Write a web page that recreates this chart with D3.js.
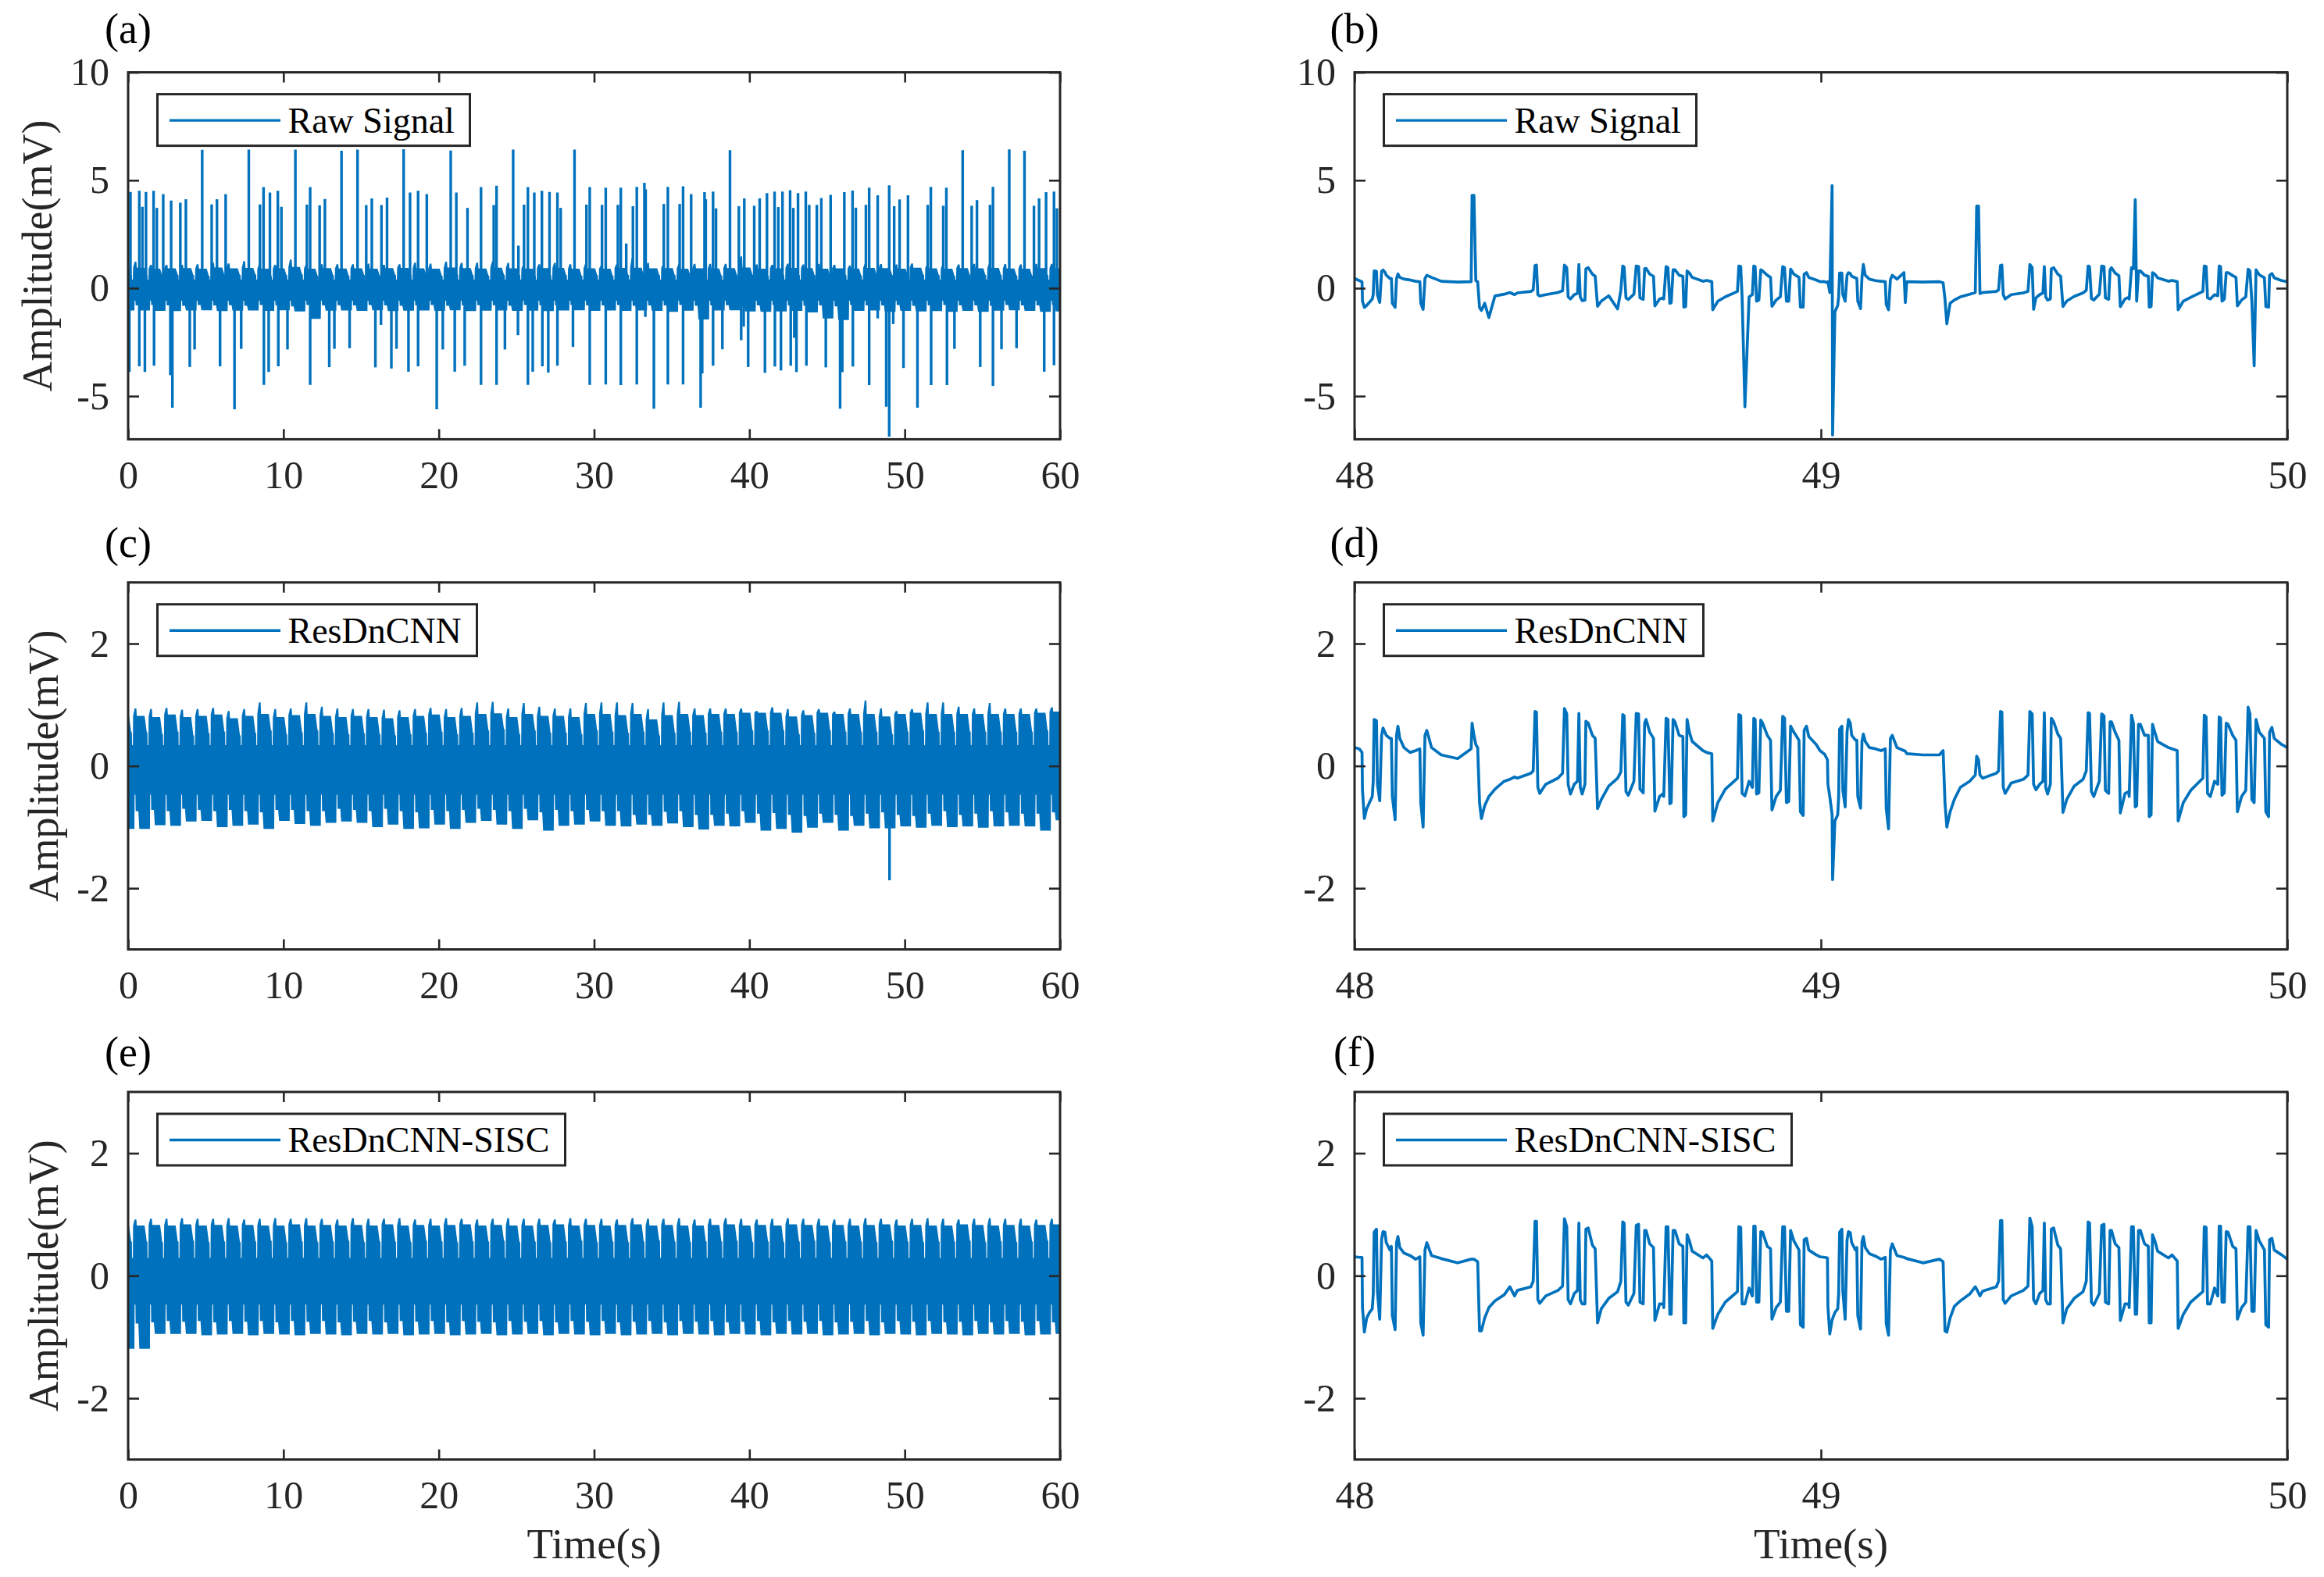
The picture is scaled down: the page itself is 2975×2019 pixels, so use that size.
<!DOCTYPE html>
<html>
<head>
<meta charset="utf-8">
<script src="https://cdn.jsdelivr.net/npm/d3@7"></script>
<style>
  html, body { margin: 0; background: #fff; }
  text { font-family: "Liberation Serif", serif; }
</style>
</head>
<body>
<script>
// ---- overview panels: one value per beat (second) ----
const aUpperPeak = [1.23,1.08,1.08,1.08,1.11,1.17,1.15,1.26,1.11,1.08,1.33,1.08,1.11,1.11,1.11,1.14,1.08,1.11,1.18,1.14,1.23,1.17,1.18,1.23,1.17,1.08,1.11,1.17,1.11,1.14,
  1.05,1.11,1.41,1.17,1.11,1.11,1.13,1.13,1.13,1.47,1.10,1.08,1.14,1.10,1.13,1.08,1.05,1.14,1.12,1.10,1.15,1.13,1.08,1.10,1.13,1.13,1.12,1.10,1.13,1.13];
const aUpperMid = [.95,.90,.92,.93,.90,.96,.92,.94,.90,.92,.98,.90,.93,.91,.92,.90,.93,.94,.92,.90,.96,.93,.91,.95,.92,.90,.93,.94,.90,.92,
  .90,.94,.95,.92,.93,.90,.92,.91,.93,.96,.90,.92,.94,.93,.90,.92,.91,.94,.93,.90,.95,.92,.90,.93,.92,.94,.91,.90,.93,.92];
const aUpperEnd = [.60,.58,.62,.60,.57,.62,.60,.63,.58,.60,.64,.58,.60,.59,.60,.58,.61,.62,.60,.58,.63,.60,.59,.62,.60,.58,.60,.61,.58,.60,
  .58,.61,.62,.60,.60,.58,.60,.59,.60,.62,.58,.60,.61,.60,.58,.60,.59,.61,.60,.58,.62,.60,.58,.60,.60,.61,.59,.58,.60,.60];
const aLowerStart = [-.80,-.78,-.80,-.82,-.78,-.80,-.79,-.82,-.78,-.80,-.84,-.78,-.80,-.79,-.80,-.78,-.80,-.82,-.80,-.78,-.82,-.80,-.79,-.80,-.82,-.78,-.80,-.80,-.78,-.80,
  -.80,-.78,-.82,-.80,-.80,-.78,-.82,-.80,-.79,-.84,-.80,-.78,-.80,-.82,-.80,-.84,-.78,-.80,-.80,-.78,-.82,-.80,-.78,-.80,-.80,-.82,-.78,-.80,-.80,-.78];
const aLowerTrough = [-1.03,-1.05,-1.06,-1.03,-1.02,-1.06,-1.04,-1.03,-1.05,-1.02,-1.08,-1.42,-1.04,-1.03,-1.05,-1.02,-1.06,-1.04,-1.03,-1.05,-1.02,-1.06,-1.04,-1.03,-1.05,-1.04,-1.06,-1.03,-1.02,-1.05,
  -1.03,-1.05,-1.03,-1.05,-1.10,-1.04,-1.45,-1.03,-1.02,-1.08,-1.10,-1.08,-1.05,-1.12,-1.40,-1.48,-1.05,-1.03,-1.10,-1.05,-1.08,-1.06,-1.10,-1.05,-1.10,-1.04,-1.02,-1.05,-1.10,-1.08];
const aUpperNotch = .40, aLowerNotch = -.58;

// spikes of the raw signal (s, mV)
const aUpSpikeT = [.15,.72,.92,1.15,1.64,1.85,2.26,2.77,3.36,3.72,4.77,5.38,5.72,6.28,7.77,8.49,8.72,9.13,9.64,9.87,10.77,11.51,11.72,12.33,12.67,13.74,14.77,15.33,15.69,16.31,16.67,17.74,18.15,18.67,19.23,20.77,21.13,21.85,22.72,23.54,23.72,24.79,25.13,25.49,25.74,26.15,26.64,27.13,27.64,27.85,28.74,29.51,29.72,
  30.51,30.75,31.53,31.72,32.07,32.50,32.75,33.24,33.32,34.49,34.75,35.51,35.73,36.25,37.11,37.19,37.66,37.85,38.75,39.32,39.67,40.31,40.66,41.13,41.62,41.86,42.13,42.62,42.83,43.13,43.63,43.85,44.34,44.63,45.23,46.11,46.64,46.85,47.50,47.71,48.26,49.00,49.32,49.67,50.21,51.48,51.68,52.48,52.68,53.73,54.31,54.65,55.49,55.68,56.73,57.71,58.32,58.65,59.10,59.61,59.80];
const aUpSpikeV = [4.46,4.51,3.77,4.46,4.51,3.72,4.36,4.06,3.96,4.12,6.41,3.88,4.12,4.36,6.42,3.88,4.68,4.43,4.51,3.77,6.42,3.87,4.68,3.84,4.13,6.37,6.42,3.85,4.16,3.85,4.20,6.44,4.43,4.51,4.36,6.38,4.43,3.72,4.68,3.85,4.75,6.42,1.97,3.87,4.68,4.43,4.51,4.46,4.43,3.72,6.42,3.87,4.68,
  3.86,4.66,3.86,4.66,2.07,3.80,4.69,4.88,4.58,3.90,4.69,3.90,4.72,4.36,4.45,4.12,4.48,3.70,6.39,3.80,4.16,3.82,4.16,4.40,4.48,3.76,4.48,4.54,3.72,4.40,4.48,3.86,3.86,4.18,4.32,4.45,4.52,3.73,3.86,4.66,4.30,4.77,3.80,4.11,4.30,3.86,4.69,3.82,4.66,6.39,3.82,4.08,3.86,4.69,6.43,6.37,3.82,4.16,4.45,4.48,3.70];
const aDownSpikeT = [.08,.72,1.08,1.67,2.72,2.85,3.97,4.28,5.92,6.85,7.28,8.74,9.05,9.67,10.26,11.72,12.95,13.28,14.26,15.92,16.28,16.95,17.28,18.05,18.67,19.87,20.26,21.03,21.67,22.72,23.72,24.26,25.10,25.74,26.05,26.67,27.05,27.64,28.64,29.72,
  30.75,31.72,32.75,33.30,33.85,34.75,35.73,36.86,36.96,37.66,38.26,39.47,39.63,39.92,41.00,41.64,42.03,42.66,42.89,43.03,43.67,44.92,45.84,45.98,46.66,47.71,48.26,48.81,49.00,49.26,49.92,50.82,51.70,52.72,53.20,54.86,55.68,56.23,57.20,58.98,59.61];
const aDownSpikeV = [-3.88,-3.62,-3.88,-3.59,-4.03,-5.54,-3.65,-2.84,-3.62,-5.61,-2.81,-4.48,-3.88,-3.62,-2.84,-4.48,-3.66,-2.81,-2.78,-3.67,-1.70,-3.72,-2.81,-3.87,-3.62,-5.61,-2.84,-3.87,-3.59,-4.48,-4.48,-2.84,-2.18,-4.48,-3.87,-3.62,-3.91,-3.59,-2.72,-4.48,
  -4.46,-4.49,-4.46,-1.33,-5.58,-4.46,-4.46,-5.54,-3.95,-3.59,-2.83,-2.41,-1.78,-3.65,-3.92,-3.63,-3.81,-3.59,-2.30,-3.89,-3.59,-3.67,-5.58,-3.89,-3.63,-4.49,-1.40,-5.49,-6.88,-1.66,-3.70,-5.54,-4.49,-4.49,-2.81,-3.65,-4.53,-2.83,-2.78,-3.87,-3.57];

const cUpperPeak = [.94,.93,.95,.92,.93,.95,.90,.93,1.04,.93,.94,1.04,.97,.94,.93,.93,.92,.91,.93,.95,.93,.95,1.04,1.05,.94,1.03,.97,.94,.94,1.03,
  1.04,1.04,1.03,.93,1.04,1.05,.94,.94,.94,.94,.90,.96,.93,.91,.93,.89,.94,1.07,.94,.90,.93,1.04,1.04,.97,.94,1.03,.94,.94,.94,.96];
const cUpperMid = [.82,.80,.84,.80,.82,.84,.78,.82,.85,.80,.83,.85,.82,.80,.82,.80,.78,.80,.82,.84,.80,.82,.85,.86,.80,.85,.82,.82,.80,.85,
  .85,.83,.85,.76,.83,.85,.83,.85,.85,.87,.87,.87,.81,.83,.87,.85,.85,.85,.81,.85,.87,.85,.85,.85,.85,.85,.85,.85,.87,.89];
const cUpperEnd = [.55,.52,.56,.50,.53,.56,.50,.54,.58,.52,.55,.58,.54,.52,.53,.52,.50,.52,.54,.56,.52,.54,.58,.60,.52,.58,.54,.54,.52,.58,
  .56,.54,.56,.50,.54,.56,.54,.56,.56,.58,.58,.58,.52,.54,.58,.56,.56,.56,.52,.56,.58,.56,.56,.56,.56,.56,.56,.56,.58,.60];
const cLowerStart = [-.74,-.72,-.74,-.70,-.72,-.74,-.72,-.74,-.76,-.72,-.72,-.74,-.74,-.70,-.72,-.74,-.70,-.74,-.76,-.72,-.74,-.72,-.70,-.72,-.74,-.70,-.76,-.72,-.74,-.72,
  -.74,-.74,-.80,-.80,-.75,-.74,-.80,-.80,-.78,-.74,-.78,-.77,-.80,-.82,-.78,-.80,-.82,-.78,-.76,-.80,-.82,-.78,-.74,-.80,-.78,-.74,-.76,-.78,-.78,-.76];
const cLowerTrough = [-1.03,-.97,-.98,-.91,-.90,-1.00,-.98,-.96,-1.03,-.90,-.95,-.98,-.93,-.91,-.93,-1.00,-.96,-1.03,-1.02,-.96,-1.03,-.93,-.90,-.96,-1.03,-.89,-1.06,-.98,-.96,-.91,
  -.98,-.99,-.96,-.98,-.94,-1.00,-1.04,-.98,-.99,-.93,-1.06,-1.03,-1.09,-1.01,-.93,-1.06,-.98,-1.02,-1.02,-.99,-1.01,-.98,-1.00,-.99,-1.01,-.99,-.98,-.99,-1.06,-.89];
const cUpperNotch = .34, cLowerNotch = -.47;
const cSpikeT = [49.02], cSpikeV = [-1.87];

const eUpperPeak = [.92,.93,.93,.94,.93,.93,.94,.92,.93,.94,.93,.94,.93,.92,.94,.93,.93,.94,.92,.93,.94,.93,.92,.93,.94,.93,.93,.92,.94,.93,
  .93,.92,.94,.93,.93,.94,.92,.93,.94,.93,.92,.93,.94,.93,.93,.92,.93,.94,.93,.92,.93,.94,.93,.92,.93,.94,.93,.93,.92,.93];
const eUpperMid = [.82,.83,.82,.84,.82,.83,.82,.83,.82,.82,.84,.82,.83,.82,.83,.82,.84,.82,.83,.82,.83,.84,.82,.83,.82,.82,.83,.84,.82,.83,
  .82,.83,.84,.82,.83,.82,.82,.83,.84,.82,.83,.82,.84,.83,.82,.83,.82,.83,.84,.82,.83,.82,.82,.84,.83,.82,.83,.82,.83,.84];
const eUpperEnd = [.56,.55,.56,.57,.55,.56,.55,.56,.57,.55,.56,.55,.56,.57,.55,.56,.56,.55,.57,.56,.55,.56,.56,.57,.55,.56,.55,.56,.57,.55,
  .56,.55,.56,.57,.56,.55,.56,.56,.57,.55,.56,.55,.56,.57,.55,.56,.56,.55,.57,.56,.55,.56,.56,.57,.55,.56,.55,.56,.57,.55];
const eLowerStart = [-.78,-.76,-.74,-.75,-.74,-.76,-.74,-.75,-.74,-.76,-.74,-.75,-.74,-.76,-.75,-.74,-.76,-.74,-.75,-.74,-.76,-.74,-.75,-.76,-.74,-.75,-.74,-.76,-.74,-.75,
  -.74,-.76,-.75,-.74,-.76,-.74,-.75,-.74,-.76,-.75,-.74,-.76,-.74,-.75,-.74,-.76,-.75,-.74,-.76,-.74,-.75,-.74,-.76,-.75,-.74,-.76,-.74,-.75,-.74,-.76];
const eLowerTrough = [-1.19,-.95,-.95,-.95,-.97,-.96,-.95,-.97,-.95,-.96,-.97,-.95,-.96,-.97,-.95,-.96,-.95,-.97,-.96,-.95,-.97,-.96,-.95,-.97,-.96,-.95,-.97,-.95,-.96,-.97,
  -.95,-.97,-.96,-.95,-.97,-.95,-.96,-.97,-.95,-.96,-.97,-.95,-.96,-.95,-.97,-.96,-.95,-.97,-.95,-.96,-.97,-.95,-.96,-.97,-.95,-.96,-.95,-.97,-.96,-.95];
const eUpperNotch = .29, eLowerNotch = -.47;

// ---- detail panels: seconds after t = 48, shared by the three traces ----
const detailT = [
  0,.010,.016,.017,.021,.026,.032,.038,.040,.042,
  .047,.049,.054,.058,.061,.065,.068,.076,.079,.081,
  .087,.090,.093,.097,.106,.119,.131,.140,.142,.147,
  .151,.155,.165,.186,.221,.250,.252,.256,.260,.264,
  .268,.272,.279,.288,.301,.321,.333,.343,.349,.378,
  .383,.387,.390,.393,.397,.410,.436,.446,.450,.455,
  .458,.463,.471,.478,.481,.484,.488,.494,.496,.501,
  .510,.516,.521,.529,.545,.564,.571,.575,.578,.582,
  .587,.599,.604,.609,.612,.619,.622,.625,.633,.641,
  .644,.654,.662,.663,.668,.672,.676,.679,.683,.687,
  .696,.704,.706,.710,.713,.718,.724,.747,.755,.766,
  .768,.779,.795,.821,.824,.828,.831,.837,.846,.853,
  .856,.859,.862,.867,.871,.875,.885,.892,.895,.904,
  .913,.918,.922,.926,.931,.935,.942,.953,.956,.962,
  .964,.969,.974,.990,
  .998,1.008,1.014,1.015,1.019,1.024,1.025,1.030,1.036,1.038,
  1.040,1.045,1.047,1.052,1.056,1.059,1.063,1.066,1.074,1.077,
  1.079,1.085,1.088,1.091,1.095,1.104,1.117,1.129,1.138,1.140,
  1.145,1.149,1.153,1.163,1.178,1.181,1.184,1.219,1.254,1.262,
  1.266,1.270,1.277,1.286,1.299,1.319,1.331,1.334,1.338,1.341,
  1.347,1.376,1.381,1.385,1.388,1.391,1.395,1.408,1.434,1.444,
  1.448,1.453,1.456,1.461,1.469,1.476,1.479,1.482,1.486,1.492,
  1.494,1.499,1.508,1.514,1.519,1.527,1.543,1.562,1.569,1.573,
  1.576,1.580,1.585,1.597,1.602,1.607,1.610,1.617,1.620,1.623,
  1.631,1.639,1.642,1.652,1.660,1.661,1.666,1.670,1.674,1.677,
  1.681,1.685,1.694,1.702,1.704,1.708,1.711,1.716,1.722,1.745,
  1.753,1.764,1.766,1.777,1.793,1.819,1.822,1.826,1.829,1.835,
  1.844,1.851,1.854,1.857,1.860,1.865,1.869,1.873,1.883,1.890,
  1.893,1.902,1.911,1.916,1.920,1.924,1.929,1.933,1.940,1.951,
  1.954,1.960,1.962,1.967,1.972,1.988,2.000];

const detailRaw = [
  .45,.35,.30,-.60,-.89,-.80,-.65,-.50,-.30,.80,
  .78,-.30,-.66,.78,.84,.75,.60,.45,.45,-.70,
  -.89,.45,.66,.50,.42,.38,.32,.30,-.70,-.98,
  .45,.60,.50,.32,.28,.30,4.30,4.30,.35,.30,
  -.90,-1.03,-.70,-1.36,-.36,-.28,-.20,-.30,-.22,-.15,
  -.08,1.05,1.07,-.30,-.36,-.30,-.20,-.12,1.07,.95,
  -.40,-.50,-.30,-.25,1.10,-.40,-.58,-.55,.90,.95,
  .65,.55,-.84,-.60,-.35,-.96,-.10,1.03,.98,-.45,
  -.52,-.28,1.03,1.00,-.45,-.52,.90,.92,.65,.55,
  -.82,-.50,-.45,-.50,1.00,.95,-.70,-.68,.85,.85,
  .60,.55,-.88,-.85,.80,.70,.50,.32,.36,.30,
  -1.0,-.60,-.40,-.15,1.03,1.00,-.40,-5.50,-.40,-.30,
  1.03,1.00,-.60,-.55,.85,.80,.60,.50,-.84,-.55,
  -.40,1.0,.95,-.60,-.60,.88,.65,.50,-.88,-.88,
  .65,.72,.50,.38,
  .30,.30,.25,.30,-.20,4.75,-6.80,-1.10,-.80,-.40,
  .70,.70,-.30,-.60,.60,.72,.68,.55,.48,.45,
  -.60,-.95,.50,1.10,.60,.42,.35,.32,.30,-.75,
  -1.0,.40,.60,.42,.72,-.67,.30,.28,.30,.25,
  -.50,-1.65,-.70,-.55,-.40,-.28,-.20,3.80,3.80,-.25,
  -.20,-.15,-.08,1.05,1.07,-.30,-.50,-.30,-.22,-.15,
  1.10,.95,-.98,-.45,-.30,-.22,1.0,-.40,-.55,-.50,
  .90,.95,.65,.55,-.85,-.60,-.38,-.22,-.10,1.03,
  1.00,-.48,-.55,-.28,1.03,1.00,-.45,-.52,.85,.95,
  .70,.58,-.85,-.50,-.42,-.50,.95,.90,4.10,-.60,
  .80,.80,.60,.55,-.88,-.85,.72,.65,.48,.32,
  .36,.30,-1.0,-.60,-.42,-.15,1.03,1.00,-.45,-.50,
  -.30,-.35,1.03,1.00,-.60,-.50,.72,.72,.58,.50,
  -.82,-.55,-.40,.88,.80,-.60,-3.60,.85,.62,.48,
  -.85,-.88,.60,.68,.48,.35,.30];

const detailResDn = [
  .30,.28,.22,-.40,-.86,-.70,-.60,-.50,-.25,.76,
  .74,-.30,-.57,.50,.62,.55,.50,.45,.45,-.50,
  -.88,.50,.65,.45,.30,.22,.25,.28,-.60,-1.0,
  .50,.58,.30,.18,.12,.28,.70,.50,.35,.30,
  -.60,-.86,-.65,-.50,-.38,-.25,-.22,-.18,-.20,-.12,
  -.08,.89,.88,-.35,-.45,-.30,-.20,-.12,.94,.85,
  -.30,-.46,-.30,-.25,.86,-.35,-.46,-.30,.73,.70,
  .50,.45,-.70,-.55,-.33,-.20,-.10,.84,.82,-.42,
  -.48,-.25,.86,.85,-.38,-.44,.70,.76,.55,.45,
  -.74,-.50,-.45,-.50,.78,.76,-.62,-.60,.76,.72,
  .50,.48,-.83,-.80,.76,.55,.40,.25,.22,.20,
  -.90,-.60,-.38,-.20,.84,.82,-.45,-.49,-.25,-.35,
  .78,.76,-.46,-.44,.75,.70,.50,.42,-.72,-.50,
  -.40,.81,.78,-.60,-.58,.65,.55,.42,-.75,-.81,
  .58,.65,.48,.35,
  .25,.19,.10,-.30,-.50,-.80,-1.86,-.90,-.80,-.50,
  .60,.65,-.40,-.67,.55,.76,.70,.50,.42,.42,
  -.50,-.69,.40,.52,.40,.30,.28,.25,.28,-.70,
  -1.03,.45,.50,.30,.25,.24,.20,.18,.18,.25,
  -.60,-1.00,-.75,-.55,-.35,-.25,-.15,.16,.10,-.15,
  -.20,-.12,-.08,.89,.88,-.35,-.45,-.28,-.22,-.15,
  .89,.85,-.30,-.39,-.30,-.25,.87,-.35,-.46,-.30,
  .78,.72,.52,.45,-.76,-.55,-.33,-.22,-.08,.87,
  .86,-.42,-.50,-.25,.85,.82,-.40,-.45,.72,.72,
  .55,.42,-.77,-.45,-.42,-.50,.83,.70,-.67,-.65,
  .68,.68,.50,.50,-.83,-.80,.68,.55,.40,.30,
  .28,.25,-.90,-.60,-.40,-.20,.83,.80,-.45,-.50,
  -.25,-.30,.80,.78,-.48,-.44,.70,.68,.50,.42,
  -.75,-.50,-.40,.96,.85,-.55,-.60,.76,.55,.45,
  -.75,-.83,.55,.63,.45,.35,.30];

const detailSisc = [
  .31,.30,.30,-.52,-.92,-.69,-.60,-.54,-.31,.71,
  .76,-.26,-.71,.59,.72,.71,.54,.42,.48,-.65,
  -.88,.54,.64,.46,.37,.33,.27,.31,-.77,-.97,
  .42,.54,.33,.28,.21,.27,.27,.27,.25,.23,
  -.90,-.90,-.69,-.52,-.41,-.31,-.18,-.33,-.24,-.18,
  -.09,.89,.89,-.39,-.45,-.33,-.24,-.17,.93,.80,
  -.39,-.46,-.29,-.24,.86,-.39,-.46,-.46,.76,.78,
  .50,.44,-.77,-.54,-.37,-.26,-.09,.88,.86,-.43,
  -.48,-.29,.82,.84,-.43,-.46,.74,.74,.52,.46,
  -.73,-.46,-.46,-.52,.80,.80,-.63,-.63,.74,.74,
  .52,.48,-.77,-.77,.67,.57,.40,.29,.34,.24,
  -.86,-.63,-.43,-.26,.80,.79,-.46,-.46,-.20,-.33,
  .81,.81,-.43,-.43,.72,.71,.48,.44,-.71,-.52,
  -.43,.80,.80,-.58,-.58,.74,.57,.42,-.80,-.84,
  .59,.61,.42,.34,
  .31,.30,.29,-.50,-.95,-.72,-.70,-.60,-.54,-.30,
  .71,.76,-.26,-.71,.58,.72,.70,.54,.42,.46,
  -.65,-.87,.55,.64,.46,.36,.32,.27,.30,-.78,
  -.97,.42,.52,.33,.30,.29,.28,.21,.27,.23,
  -.90,-.92,-.69,-.50,-.41,-.30,-.18,-.22,-.28,-.33,
  -.25,-.18,-.09,.90,.90,-.39,-.45,-.33,-.24,-.17,
  .94,.80,-.39,-.46,-.29,-.24,.86,-.39,-.46,-.46,
  .76,.78,.50,.44,-.77,-.54,-.37,-.26,-.09,.88,
  .86,-.43,-.48,-.29,.82,.84,-.43,-.46,.74,.74,
  .52,.46,-.73,-.46,-.46,-.52,.80,.80,-.63,-.63,
  .74,.74,.52,.48,-.77,-.77,.67,.57,.40,.29,
  .34,.24,-.86,-.63,-.43,-.26,.80,.79,-.46,-.46,
  -.20,-.33,.81,.81,-.43,-.43,.72,.71,.48,.44,
  -.71,-.52,-.43,.80,.80,-.58,-.58,.74,.57,.42,
  -.80,-.84,.59,.61,.42,.34,.27];

const overviewTicks = [0,10,20,30,40,50,60];
const detailTicks = [48,49,50];
const rawYTicks = [-5,0,5,10];
const cleanYTicks = [-2,0,2];
const legendNames = ["Raw Signal","ResDnCNN","ResDnCNN-SISC"];
const panelTags = ["(a)","(b)","(c)","(d)","(e)","(f)"];

const WIDTH = 2975, HEIGHT = 2019;
const BLUE = "#0072BD", DARK = "#262626";
const colX = [[164,1357],[1734,2928]];
const rowY = [[92.6,562.4],[745.7,1215.5],[1398,1868.6]];
const legendW = [[400,400],[409,409],[522,522]];
const tagGap = [38,33,33];

const svg = d3.select("body").append("svg")
  .attr("width", WIDTH).attr("height", HEIGHT)
  .style("display","block");

// upper edge of the band, beat by beat
function upperEdge(peak, mid, end, notch) {
  const pts = [];
  d3.range(-1,60).forEach(k => {
    const i = Math.max(k,0);
    pts.push([k+.255,notch],[k+.305,notch],[k+.32,mid[i]],[k+.42,peak[i]],[k+.53,peak[i]],
             [k+.56,mid[i]],[k+1.06,mid[i]],[k+1.2,end[i]],[k+1.245,end[i]]);
  });
  return pts;
}
function lowerEdge(start, trough, notch) {
  const pts = [];
  d3.range(-1,60).forEach(k => {
    const i = Math.max(k,0);
    pts.push([k+.42,notch],[k+.47,notch],[k+.485,start[i]],[k+.66,start[i]],[k+.72,trough[i]],[k+1.405,trough[i]]);
  });
  return pts;
}

function drawPanel(col, row, tag, draw) {
  const x = d3.scaleLinear().domain(col === 0 ? [0,60] : [48,50]).range(colX[col]);
  const y = d3.scaleLinear().domain(row === 0 ? [-7,10] : [-3,3]).range([rowY[row][1],rowY[row][0]]);
  const xTicks = col === 0 ? overviewTicks : detailTicks;
  const yTicks = row === 0 ? rawYTicks : cleanYTicks;
  const [left,right] = colX[col], [top,bottom] = rowY[row];
  const g = svg.append("g");
  const clip = "clip-" + col + "-" + row;
  g.append("clipPath").attr("id",clip).append("rect")
    .attr("x",left).attr("y",top).attr("width",right-left).attr("height",bottom-top);

  const plot = g.append("g").attr("clip-path","url(#"+clip+")");
  draw(plot, x, y);

  // box and ticks, MATLAB style: ticks point inwards on all four sides
  g.append("g").attr("transform","translate(0,"+bottom+")")
    .call(d3.axisBottom(x).tickValues(xTicks).tickSizeInner(-13).tickSizeOuter(0).tickPadding(27).tickFormat(d => String(d)));
  g.append("g").attr("transform","translate(0,"+top+")")
    .call(d3.axisTop(x).tickValues(xTicks).tickSizeInner(-13).tickSizeOuter(0).tickFormat(""));
  g.append("g").attr("transform","translate("+left+",0)")
    .call(d3.axisLeft(y).tickValues(yTicks).tickSizeInner(-14).tickSizeOuter(0).tickPadding(24).tickFormat(d => String(d)));
  g.append("g").attr("transform","translate("+right+",0)")
    .call(d3.axisRight(y).tickValues(yTicks).tickSizeInner(-14).tickSizeOuter(0).tickFormat(""));
  g.selectAll(".domain").remove();
  g.selectAll(".tick line").attr("stroke",DARK).attr("stroke-width",2.6);
  g.selectAll(".tick text").attr("fill",DARK).style("font-size","50px").style("font-family",'"Liberation Serif", serif');
  g.append("rect").attr("x",left).attr("y",top).attr("width",right-left).attr("height",bottom-top)
    .attr("fill","none").attr("stroke",DARK).attr("stroke-width",3);

  // legend
  const lx = left+37.5, ly = top+28;
  g.append("rect").attr("x",lx).attr("y",ly).attr("width",legendW[row][col]).attr("height",66)
    .attr("fill","#fff").attr("stroke",DARK).attr("stroke-width",3);
  g.append("line").attr("x1",lx+15.5).attr("x2",lx+157.5).attr("y1",ly+33.5).attr("y2",ly+33.5)
    .attr("stroke",BLUE).attr("stroke-width",3.4);
  g.append("text").attr("x",lx+167).attr("y",ly+49).attr("fill","#000").style("font-size","46px")
    .text(legendNames[row]);

  // panel tag
  svg.append("text").attr("x",left).attr("y",top-tagGap[row]).attr("text-anchor","middle")
    .attr("fill","#000").style("font-size","54px").text(tag);

  if (col === 0) {
    const by = row === 0 ? 66 : 74;
    svg.append("text").attr("transform","translate("+by+","+(top+bottom)/2+") rotate(-90)")
      .attr("text-anchor","middle").attr("fill",DARK).style("font-size","54px").text("Amplitude(mV)");
  }
  if (row === 2) {
    svg.append("text").attr("x",(left+right)/2).attr("y",1995).attr("text-anchor","middle")
      .attr("fill",DARK).style("font-size","55px").text("Time(s)");
  }
}

function overview(upper, lower, spikeSets) {
  return (plot, x, y) => {
    // the two areas overlap a little around zero so no seam shows
    const areaUp = d3.area().x(d => x(d[0])).y0(y(-.1)).y1(d => y(d[1]));
    const areaDown = d3.area().x(d => x(d[0])).y0(y(.1)).y1(d => y(d[1]));
    plot.append("path").attr("d",areaUp(upper)).attr("fill",BLUE);
    plot.append("path").attr("d",areaDown(lower)).attr("fill",BLUE);
    spikeSets.forEach(([ts,vs]) => {
      plot.append("g").selectAll("line").data(ts).enter().append("line")
        .attr("x1",d => x(d)).attr("x2",d => x(d))
        .attr("y1",y(0)).attr("y2",(d,i) => y(vs[i]))
        .attr("stroke",BLUE).attr("stroke-width",3.4);
    });
  };
}

function detail(values) {
  return (plot, x, y) => {
    const line = d3.line().x((d,i) => x(48+detailT[i])).y(d => y(d));
    plot.append("path").attr("d",line(values)).attr("fill","none")
      .attr("stroke",BLUE).attr("stroke-width",3.7).attr("stroke-linejoin","round");
  };
}

drawPanel(0,0,panelTags[0],overview(upperEdge(aUpperPeak,aUpperMid,aUpperEnd,aUpperNotch),
  lowerEdge(aLowerStart,aLowerTrough,aLowerNotch),[[aUpSpikeT,aUpSpikeV],[aDownSpikeT,aDownSpikeV]]));
drawPanel(1,0,panelTags[1],detail(detailRaw));
drawPanel(0,1,panelTags[2],overview(upperEdge(cUpperPeak,cUpperMid,cUpperEnd,cUpperNotch),
  lowerEdge(cLowerStart,cLowerTrough,cLowerNotch),[[cSpikeT,cSpikeV]]));
drawPanel(1,1,panelTags[3],detail(detailResDn));
drawPanel(0,2,panelTags[4],overview(upperEdge(eUpperPeak,eUpperMid,eUpperEnd,eUpperNotch),
  lowerEdge(eLowerStart,eLowerTrough,eLowerNotch),[]));
drawPanel(1,2,panelTags[5],detail(detailSisc));
</script>
</body>
</html>
